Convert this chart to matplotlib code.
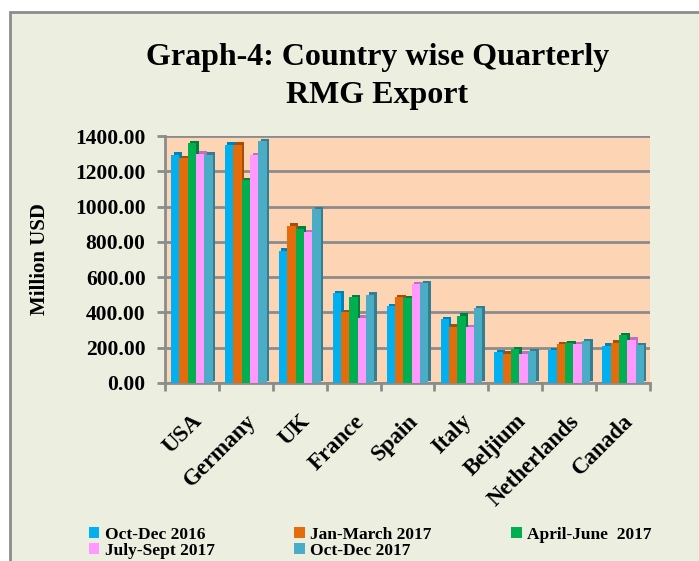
import numpy as np
import matplotlib.pyplot as plt
import matplotlib.patches as patches
import matplotlib.transforms as mtransforms

# datos (millones USD)
paises = ["USA", "Germany", "UK", "France", "Spain", "Italy", "Beljium", "Netherlands", "Canada"]
oct_dec_2016 = [1295, 1350, 750, 510, 435, 360, 175, 185, 210]
jan_mar_2017 = [1275, 1350, 890, 400, 485, 320, 165, 220, 228]
apr_jun_2017 = [1360, 1150, 875, 485, 480, 380, 190, 225, 270]
jul_sep_2017 = [1300, 1290, 855, 370, 560, 315, 165, 220, 245]
oct_dec_2017 = [1295, 1370, 985, 500, 565, 425, 180, 238, 215]
series = [oct_dec_2016, jan_mar_2017, apr_jun_2017, jul_sep_2017, oct_dec_2017]
nombres = ["Oct-Dec 2016", "Jan-March 2017", "April-June  2017", "July-Sept 2017", "Oct-Dec 2017"]
colores = ["#00B0F0", "#E46C0A", "#00B050", "#FF99FF", "#4BACC6"]
sombras = ["#0082B3", "#A84F07", "#00803F", "#C070C0", "#357E92"]
yticks = np.arange(0, 1401, 200)

plt.rcParams['font.family'] = ['Liberation Serif', 'DejaVu Serif']
plt.rcParams['font.weight'] = 'bold'

fig = plt.figure(figsize=(6.99, 5.61), dpi=100)
fig.patch.set_facecolor("white")
# marco del grafico (cortado a la derecha y abajo como en la imagen)
marco = patches.Rectangle((10 / 699, -0.05), 1.0, 1 - 12 / 561 + 0.05, transform=fig.transFigure,
                          facecolor="#ECEEDF", edgecolor="#8C8C8C", linewidth=2, zorder=-5)
fig.patches.append(marco)

ax = fig.add_axes([165 / 699, 1 - 383 / 561, 485 / 699, 247 / 561])
ax.set_facecolor("#FDD5B4")

x = np.arange(len(paises))
w = 0.155
sombra = mtransforms.offset_copy(ax.transData, fig=fig, x=2.5, y=2.5, units='dots')
for i, (vals, c, s, n) in enumerate(zip(series, colores, sombras, nombres)):
    pos = x + (i - 2) * w
    ax.bar(pos, vals, w, color=s, transform=sombra, zorder=2)
    ax.bar(pos, vals, w, color=c, label=n, zorder=3)

ax.set_xlim(-0.5, len(paises) - 0.5)
ax.set_ylim(0, 1400)
ax.set_yticks(yticks)
ax.set_yticklabels([f"{v:.2f}" for v in yticks], fontsize=15.5, fontweight='bold')
ax.yaxis.grid(True, color="#8C8C8C", linewidth=2, zorder=1)
ax.set_axisbelow(True)
ax.set_xticks(np.arange(-0.5, len(paises), 1))
ax.set_xticklabels([])
ax.set_xticks(x, minor=True)
ax.set_xticklabels(paises, minor=True, rotation=45, ha='right', va='top',
                   rotation_mode='anchor', fontsize=16.5, fontweight='bold')
ax.tick_params(axis='x', which='minor', length=0, pad=20)
ax.tick_params(axis='x', which='major', length=6, color="#8C8C8C", width=2)
ax.tick_params(axis='y', length=6, color="#8C8C8C", width=2, pad=8)
for lado in ['top', 'right']:
    ax.spines[lado].set_visible(False)
for lado in ['left', 'bottom']:
    ax.spines[lado].set_color("#8C8C8C")
    ax.spines[lado].set_linewidth(2)

ax.set_ylabel("Million USD", fontsize=15, fontweight='bold', labelpad=18)

fig.text(0.54, 1 - 58 / 561, "Graph-4: Country wise Quarterly", ha='center', va='center',
         fontsize=23, fontweight='bold')
fig.text(0.54, 1 - 96 / 561, "RMG Export", ha='center', va='center',
         fontsize=23, fontweight='bold')

# leyenda por filas como en el original
handles, labels = ax.get_legend_handles_labels()
orden = [0, 3, 1, 4, 2]
fig.legend([handles[k] for k in orden], [labels[k] for k in orden], loc='upper left',
           bbox_to_anchor=(82 / 699, 1 - 520 / 561),
           ncol=3, frameon=False, fontsize=12.5, handlelength=0.6, handleheight=0.6,
           handletextpad=0.3, columnspacing=4.6, labelspacing=0.0, borderaxespad=0)

fig.savefig("out.png", dpi=100)
